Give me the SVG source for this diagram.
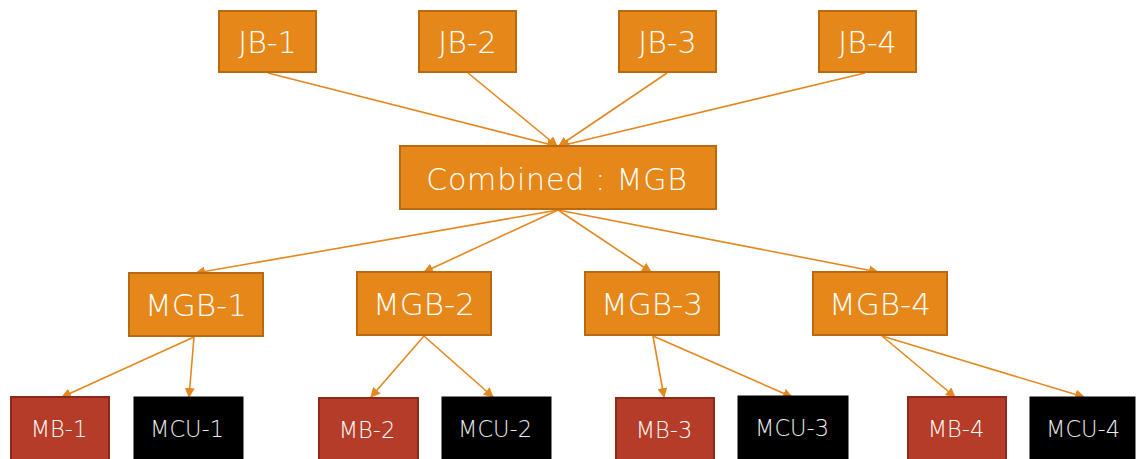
<svg xmlns="http://www.w3.org/2000/svg" width="1137" height="459" viewBox="0 0 1137 459">
<defs>
<style>
.o{fill:#E6871A;stroke:#B96A10;stroke-width:2}
.r{fill:#B53C28;stroke:#8C2A1A;stroke-width:2}
.k{fill:#000;stroke:#000;stroke-width:1}
text{font-family:"DejaVu Sans","Liberation Sans",sans-serif;fill:#fff;text-anchor:middle;font-weight:300}
.t1{font-size:30px}
.t2{font-size:31px}
.t3{font-size:22.5px}
.c{fill:#EDEDED}
.e{stroke:#E3881E;stroke-width:1.6;fill:none;marker-end:url(#a)}
</style>
<marker id="a" markerWidth="10" markerHeight="10" refX="9" refY="5" orient="auto" markerUnits="userSpaceOnUse">
<path d="M0,0 L10,5 L0,10 Z" fill="#E3881E"/>
</marker>
</defs>
<g id="connectors">
<line class="e" x1="268" y1="73" x2="556" y2="146"/>
<line class="e" x1="468" y1="73" x2="557" y2="146"/>
<line class="e" x1="667" y1="73" x2="559" y2="146"/>
<line class="e" x1="865" y1="73" x2="560" y2="146"/>
<line class="e" x1="558" y1="210" x2="196" y2="273"/>
<line class="e" x1="558" y1="210" x2="424" y2="272"/>
<line class="e" x1="558" y1="210" x2="651" y2="272"/>
<line class="e" x1="558" y1="210" x2="878" y2="272"/>
<line class="e" x1="194" y1="337" x2="62" y2="397"/>
<line class="e" x1="194" y1="337" x2="189" y2="397"/>
<line class="e" x1="424" y1="336" x2="371" y2="397"/>
<line class="e" x1="424" y1="336" x2="493" y2="397"/>
<line class="e" x1="653" y1="336" x2="664" y2="397"/>
<line class="e" x1="653" y1="336" x2="792" y2="397"/>
<line class="e" x1="882" y1="336" x2="955" y2="397"/>
<line class="e" x1="882" y1="336" x2="1084" y2="397"/>
</g>
<g id="jb1"><rect class="o" x="219" y="11" width="97" height="61"/><text class="t1" x="267.5" y="53">JB-1</text></g>
<g id="jb2"><rect class="o" x="419" y="11" width="97" height="61"/><text class="t1" x="467.5" y="53">JB-2</text></g>
<g id="jb3"><rect class="o" x="619" y="11" width="97" height="61"/><text class="t1" x="667.5" y="53">JB-3</text></g>
<g id="jb4"><rect class="o" x="819" y="11" width="97" height="61"/><text class="t1" x="867.5" y="53">JB-4</text></g>
<g id="combined"><rect class="o" x="400" y="146" width="316" height="63"/><text class="t1" x="557" y="190" letter-spacing="0.8">Combined : MGB</text></g>
<g id="mgb1"><rect class="o" x="129" y="273" width="134" height="63"/><text class="t2" x="196" y="316">MGB-1</text></g>
<g id="mgb2"><rect class="o" x="357" y="272" width="134" height="63"/><text class="t2" x="424" y="315">MGB-2</text></g>
<g id="mgb3"><rect class="o" x="585" y="272" width="134" height="63"/><text class="t2" x="652" y="315">MGB-3</text></g>
<g id="mgb4"><rect class="o" x="813" y="272" width="134" height="63"/><text class="t2" x="880" y="315">MGB-4</text></g>
<g id="mb1"><rect class="r" x="11" y="397" width="98" height="66"/><text class="t3" x="59" y="437">MB-1</text></g>
<g id="mcu1"><rect class="k" x="134" y="397" width="109" height="66"/><text class="t3 c" x="187" y="437">MCU-1</text></g>
<g id="mb2"><rect class="r" x="319" y="398" width="99" height="66"/><text class="t3" x="367" y="438">MB-2</text></g>
<g id="mcu2"><rect class="k" x="442" y="397" width="109" height="66"/><text class="t3 c" x="495" y="437">MCU-2</text></g>
<g id="mb3"><rect class="r" x="616" y="398" width="98" height="66"/><text class="t3" x="664" y="438">MB-3</text></g>
<g id="mcu3"><rect class="k" x="738" y="396" width="110" height="66"/><text class="t3 c" x="792" y="436">MCU-3</text></g>
<g id="mb4"><rect class="r" x="908" y="397" width="98" height="66"/><text class="t3" x="956" y="437">MB-4</text></g>
<g id="mcu4"><rect class="k" x="1030" y="397" width="105" height="66"/><text class="t3 c" x="1083" y="437">MCU-4</text></g>
</svg>
